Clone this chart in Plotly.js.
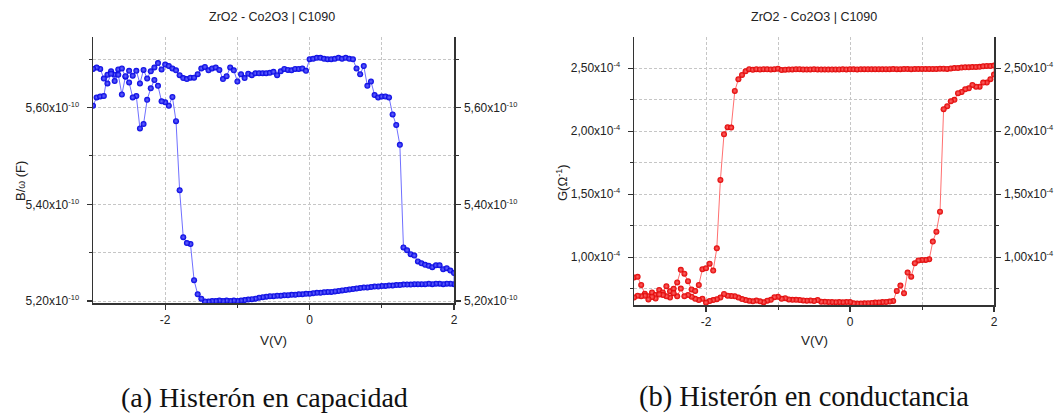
<!DOCTYPE html>
<html>
<head>
<meta charset="utf-8">
<script src="https://cdn.plot.ly/plotly-3.0.1.min.js"></script>
<style>html,body{margin:0;padding:0;background:#fff;}#chart{width:1056px;height:415px;}</style>
</head>
<body>
<div id="chart"></div>
<script>
// Bias voltage (V), sweep grid
const V = [-3.00,-2.95,-2.90,-2.85,-2.80,-2.75,-2.70,-2.65,-2.60,-2.55,-2.50,-2.45,-2.40,-2.35,-2.30,-2.25,-2.20,-2.15,-2.10,-2.05,
-2.00,-1.95,-1.90,-1.85,-1.80,-1.75,-1.70,-1.65,-1.60,-1.55,-1.50,-1.45,-1.40,-1.35,-1.30,-1.25,-1.20,-1.15,-1.10,-1.05,
-1.00,-0.95,-0.90,-0.85,-0.80,-0.75,-0.70,-0.65,-0.60,-0.55,-0.50,-0.45,-0.40,-0.35,-0.30,-0.25,-0.20,-0.15,-0.10,-0.05,
0.00,0.05,0.10,0.15,0.20,0.25,0.30,0.35,0.40,0.45,0.50,0.55,0.60,0.65,0.70,0.75,0.80,0.85,0.90,0.95,
1.00,1.05,1.10,1.15,1.20,1.25,1.30,1.35,1.40,1.45,1.50,1.55,1.60,1.65,1.70,1.75,1.80,1.85,1.90,1.95,2.00];

// B/omega in units of 1e-10 F: forward sweep (-3 -> 2), listed by V
const C_fwd = [5.604,5.621,5.623,5.624,5.668,5.675,5.668,5.679,5.681,5.664,5.676,5.666,5.676,5.650,5.678,5.660,5.675,5.683,5.692,5.679,
5.689,5.686,5.681,5.677,5.667,5.661,5.659,5.662,5.662,5.669,5.681,5.684,5.677,5.681,5.683,5.678,5.659,5.665,5.683,5.677,
5.654,5.669,5.661,5.670,5.667,5.671,5.671,5.671,5.671,5.672,5.674,5.667,5.675,5.680,5.678,5.677,5.680,5.680,5.681,5.676,
5.700,5.701,5.703,5.703,5.701,5.700,5.700,5.701,5.703,5.701,5.703,5.701,5.700,5.681,5.669,5.686,5.645,5.654,5.626,5.621,
5.623,5.623,5.621,5.586,5.564,5.523,5.311,5.305,5.297,5.294,5.282,5.278,5.275,5.273,5.270,5.274,5.274,5.266,5.268,5.263,5.258];
// backward sweep (2 -> -3), listed by V
const C_back = [5.680,5.683,5.680,5.660,5.650,5.670,5.655,5.668,5.627,5.665,5.652,5.621,5.624,5.557,5.566,5.616,5.640,5.657,5.645,5.613,
5.611,5.604,5.622,5.572,5.429,5.332,5.320,5.318,5.243,5.214,5.205,5.199,5.199,5.200,5.200,5.201,5.200,5.201,5.200,5.201,
5.200,5.201,5.202,5.203,5.204,5.205,5.207,5.208,5.209,5.210,5.210,5.211,5.211,5.212,5.212,5.213,5.213,5.214,5.214,5.215,
5.215,5.216,5.217,5.217,5.218,5.219,5.219,5.220,5.221,5.222,5.223,5.224,5.225,5.226,5.227,5.228,5.228,5.229,5.230,5.230,
5.231,5.231,5.232,5.232,5.233,5.233,5.234,5.234,5.234,5.235,5.235,5.235,5.235,5.236,5.235,5.236,5.236,5.235,5.236,5.236,5.235];

// Conductance G in units of 1e-4 S: forward sweep, listed by V
const G_fwd = [0.840,0.845,0.780,0.710,0.690,0.720,0.700,0.740,0.720,0.770,0.730,0.750,0.800,0.900,0.870,0.810,0.745,0.733,0.780,0.905,
0.913,0.949,0.894,1.071,1.613,1.976,2.032,2.029,2.320,2.413,2.447,2.476,2.493,2.488,2.493,2.491,2.493,2.492,2.491,2.493,
2.497,2.486,2.489,2.490,2.491,2.492,2.493,2.491,2.490,2.491,2.492,2.491,2.490,2.491,2.490,2.490,2.491,2.491,2.492,2.491,
2.492,2.492,2.491,2.492,2.493,2.492,2.492,2.493,2.493,2.492,2.493,2.493,2.494,2.493,2.493,2.494,2.494,2.493,2.494,2.494,
2.495,2.494,2.495,2.495,2.494,2.496,2.497,2.495,2.498,2.501,2.502,2.505,2.507,2.507,2.509,2.510,2.511,2.515,2.518,2.517,2.521];
// backward sweep, listed by V
const G_back = [0.680,0.695,0.690,0.695,0.665,0.685,0.672,0.705,0.700,0.690,0.680,0.715,0.690,0.751,0.690,0.700,0.687,0.670,0.660,0.671,
0.640,0.653,0.660,0.667,0.680,0.709,0.695,0.692,0.690,0.680,0.668,0.660,0.655,0.650,0.656,0.650,0.642,0.655,0.662,0.683,
0.687,0.670,0.675,0.665,0.662,0.662,0.660,0.657,0.655,0.657,0.652,0.661,0.647,0.646,0.645,0.644,0.643,0.644,0.643,0.645,
0.645,0.634,0.632,0.632,0.634,0.635,0.637,0.640,0.641,0.644,0.645,0.648,0.653,0.733,0.775,0.714,0.878,0.846,0.952,0.975,
0.979,0.979,0.984,1.124,1.203,1.362,2.175,2.198,2.238,2.249,2.302,2.312,2.333,2.341,2.367,2.354,2.354,2.386,2.386,2.413,2.450];

// Tick labels
const xTickVals = [-2, 0, 2];
const xTickText = ['-2', '0', '2'];
const cTickVals = [5.2, 5.4, 5.6];
const cTickText = ['5,20x10', '5,40x10', '5,60x10'].map(s => s + '<sup><span style="font-size:7.5px">-10</span></sup>');
const cMinorVals = [5.3, 5.5, 5.7];
const gTickVals = [1.0, 1.5, 2.0, 2.5];
const gTickText = ['1,00x10', '1,50x10', '2,00x10', '2,50x10'].map(s => s + '<sup><span style="font-size:7.5px">-4</span></sup>');
const gMinorVals = [0.75, 1.25, 1.75, 2.25];

const FONT = 'Arial, "Liberation Sans", sans-serif';
const SERIF = '"Liberation Serif", "DejaVu Serif", serif';
const AX = '#333333';
const GRID = '#c6c6c6';

function loop(fwd, back) {
  return { x: V.concat(V.slice().reverse()), y: fwd.concat(back.slice().reverse()) };
}
const cLoop = loop(C_fwd, C_back);
const gLoop = loop(G_fwd, G_back);

const traces = [
  { type: 'scatter', mode: 'lines+markers', x: cLoop.x, y: cLoop.y, xaxis: 'x', yaxis: 'y',
    line: { color: '#7070ff', width: 1 },
    marker: { size: 6, color: '#0000e0', gradient: { type: 'radial', color: '#6a6aff' }, line: { width: 0 } } },
  // invisible copy so the mirrored right-hand axis gets drawn
  { type: 'scatter', mode: 'markers', x: cLoop.x, y: cLoop.y, xaxis: 'x', yaxis: 'y2',
    marker: { size: 1, opacity: 0 }, hoverinfo: 'skip' },
  { type: 'scatter', mode: 'lines+markers', x: gLoop.x, y: gLoop.y, xaxis: 'x2', yaxis: 'y3',
    line: { color: '#ff7070', width: 1 },
    marker: { size: 6, color: '#e00000', gradient: { type: 'radial', color: '#ff6a6a' }, line: { width: 0 } } },
  { type: 'scatter', mode: 'markers', x: gLoop.x, y: gLoop.y, xaxis: 'x2', yaxis: 'y4',
    marker: { size: 1, opacity: 0 }, hoverinfo: 'skip' }
];

function xax(domain, anchor) {
  return { domain: domain, anchor: anchor, range: [-3, 2], showline: true, linecolor: AX, linewidth: 1.5,
    mirror: false, zeroline: false, showgrid: true, gridcolor: GRID, gridwidth: 1, griddash: '3px,2px',
    tickmode: 'array', tickvals: xTickVals, ticktext: xTickText, ticks: 'outside', ticklen: 5, tickwidth: 1.2, tickcolor: AX,
    tickfont: { family: FONT, size: 12, color: '#222' },
    minor: { tickmode: 'array', tickvals: [-1, 1], ticks: 'outside', ticklen: 3, tickwidth: 1, tickcolor: AX,
      showgrid: true, gridcolor: GRID, gridwidth: 1, griddash: '3px,2px' } };
}
function yax(domain, anchor, range, tv, tt, mv, side, overlay) {
  return { domain: domain, anchor: anchor, range: range, side: side, showline: true, linecolor: AX, linewidth: 1.5,
    zeroline: false, showgrid: !overlay, gridcolor: GRID, gridwidth: 1, griddash: '3px,2px',
    tickmode: 'array', tickvals: tv, ticktext: tt, ticks: 'outside', ticklen: 5, tickwidth: 1.2, tickcolor: AX,
    ticklabelstandoff: overlay ? 1 : 5,
    tickfont: { family: FONT, size: 12, color: '#222' },
    minor: { tickmode: 'array', tickvals: mv, ticks: 'outside', ticklen: 3, tickwidth: 1, tickcolor: AX,
      showgrid: !overlay, gridcolor: GRID, gridwidth: 1, griddash: '3px,2px' } };
}

const W = 1056, H = 415;
const px = v => v / W, py = v => 1 - v / H;

const layout = {
  width: W, height: H, margin: { l: 0, r: 0, t: 0, b: 0 }, showlegend: false,
  paper_bgcolor: '#fff', plot_bgcolor: '#fff',
  xaxis: xax([px(93), px(454)], 'y'),
  yaxis: yax([py(303), py(37)], 'x', [5.196, 5.746], cTickVals, cTickText, cMinorVals, 'left', false),
  yaxis2: Object.assign(yax([py(303), py(37)], 'x', [5.196, 5.746], cTickVals, cTickText, cMinorVals, 'right', true), { overlaying: 'y' }),
  xaxis2: xax([px(634), px(994)], 'y3'),
  yaxis3: yax([py(305), py(37)], 'x2', [0.621, 2.748], gTickVals, gTickText, gMinorVals, 'left', false),
  yaxis4: Object.assign(yax([py(305), py(37)], 'x2', [0.621, 2.748], gTickVals, gTickText, gMinorVals, 'right', true), { overlaying: 'y3' }),
  annotations: [
    { text: 'ZrO2 - Co2O3 | C1090', xref: 'paper', yref: 'paper', x: px(272), y: py(17), showarrow: false,
      xanchor: 'center', yanchor: 'middle', font: { family: FONT, size: 12.5, color: '#222' } },
    { text: 'ZrO2 - Co2O3 | C1090', xref: 'paper', yref: 'paper', x: px(814), y: py(17), showarrow: false,
      xanchor: 'center', yanchor: 'middle', font: { family: FONT, size: 12.5, color: '#222' } },
    { text: 'V(V)', xref: 'paper', yref: 'paper', x: px(273), y: py(340), showarrow: false,
      xanchor: 'center', yanchor: 'middle', font: { family: FONT, size: 13.5, color: '#222' } },
    { text: 'V(V)', xref: 'paper', yref: 'paper', x: px(814), y: py(340), showarrow: false,
      xanchor: 'center', yanchor: 'middle', font: { family: FONT, size: 13.5, color: '#222' } },
    { text: 'B/<span style="font-size:10px">ω</span> (F)', xref: 'paper', yref: 'paper', x: px(20), y: py(181), showarrow: false,
      textangle: -90, xanchor: 'center', yanchor: 'middle', font: { family: FONT, size: 13, color: '#222' } },
    { text: 'G(Ω<sup>-1</sup>)', xref: 'paper', yref: 'paper', x: px(562), y: py(183), showarrow: false,
      textangle: -90, xanchor: 'center', yanchor: 'middle', font: { family: FONT, size: 13, color: '#222' } },
    { text: '(a) Histerón en capacidad', xref: 'paper', yref: 'paper', x: px(264), y: py(397), showarrow: false,
      xanchor: 'center', yanchor: 'middle', font: { family: SERIF, size: 28, color: '#111' } },
    { text: '(b) Histerón en conductancia', xref: 'paper', yref: 'paper', x: px(804), y: py(397), showarrow: false,
      xanchor: 'center', yanchor: 'middle', font: { family: SERIF, size: 28.5, color: '#111' } }
  ]
};

Plotly.newPlot('chart', traces, layout, { staticPlot: true, displayModeBar: false });
</script>
</body>
</html>
